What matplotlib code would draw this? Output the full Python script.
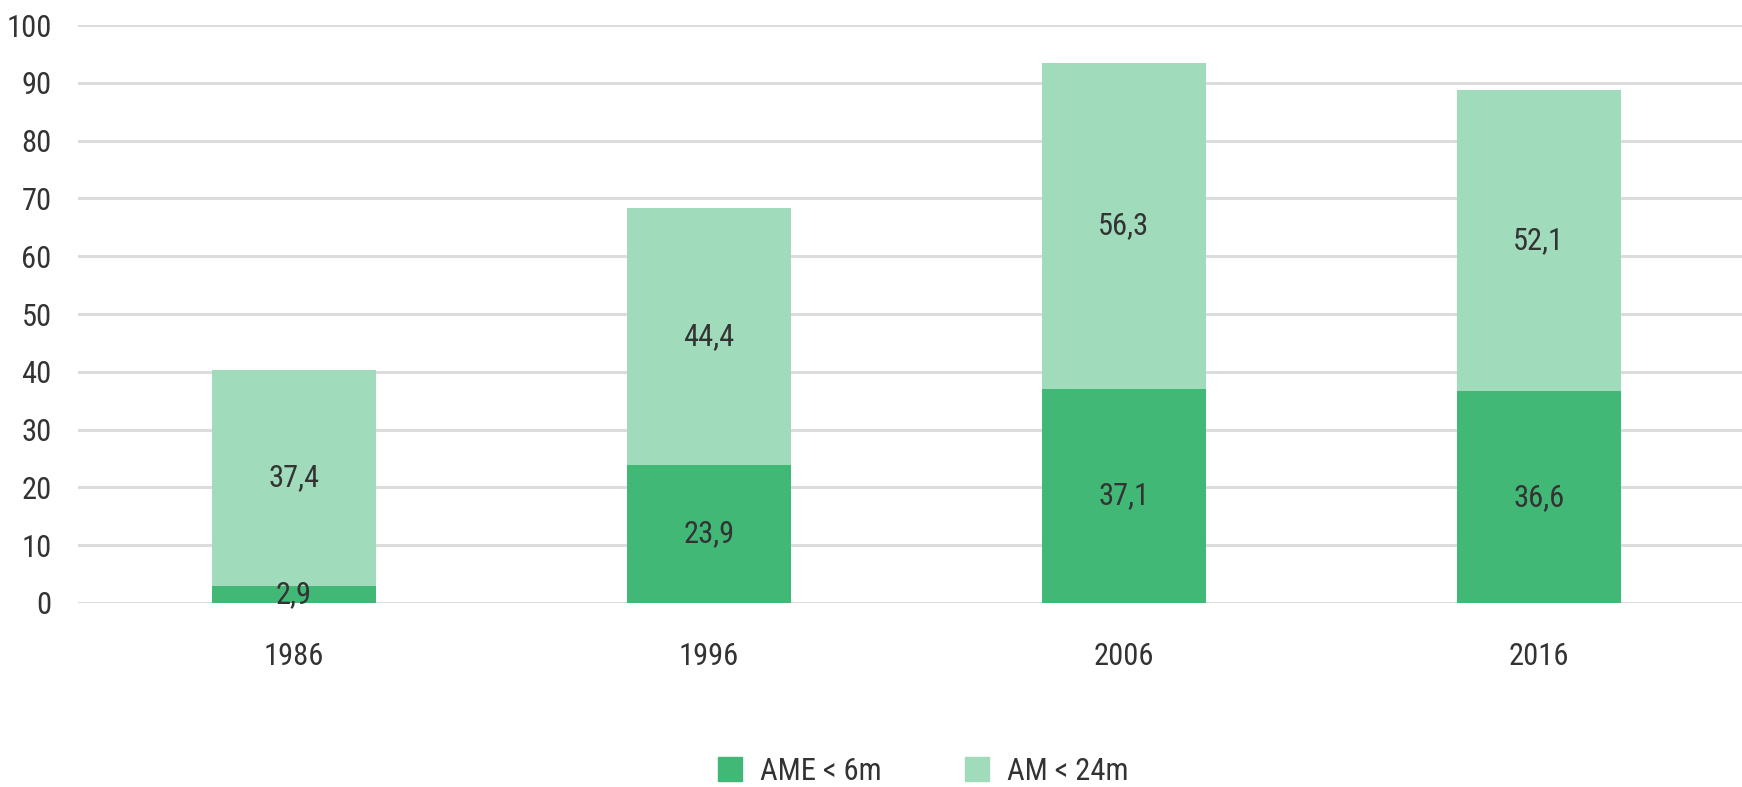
import matplotlib.pyplot as plt
from matplotlib import font_manager
from matplotlib.patches import Patch

# the reference uses a condensed face; take the first narrow one that exists
have = {f.name for f in font_manager.fontManager.ttflist}
narrow = [n for n in ['Liberation Sans Narrow', 'DejaVu Sans Condensed',
                      'Roboto Condensed', 'Open Sans Condensed',
                      'Noto Sans Condensed'] if n in have]
if not narrow:
    narrow = ['DejaVu Sans']
plt.rcParams['font.family'] = [narrow[0], 'DejaVu Sans']

# data
years = ['1986', '1996', '2006', '2016']
ame_6m = [2.9, 23.9, 37.1, 36.6]
am_24m = [37.4, 44.4, 56.3, 52.1]
ame_lbl = ['2,9', '23,9', '37,1', '36,6']
am_lbl = ['37,4', '44,4', '56,3', '52,1']

dark = '#42b877'
light = '#a0dbbc'
txt = '#333333'

fig = plt.figure(figsize=(17.42, 7.87), dpi=100)
ax = fig.add_axes([0.0448, 0.234, 0.9552, 0.734])

x = list(range(len(years)))
w = 0.395
ax.bar(x, ame_6m, w, color=dark, zorder=3)
ax.bar(x, am_24m, w, bottom=ame_6m, color=light, zorder=3)

for i in x:
    ax.text(i, ame_6m[i] / 2, ame_lbl[i], ha='center', va='center',
            fontsize=22, color=txt, zorder=4)
    ax.text(i, ame_6m[i] + am_24m[i] / 2, am_lbl[i], ha='center',
            va='center', fontsize=22, color=txt, zorder=4)

ax.set_xlim(-0.52, 3.49)
ax.set_ylim(0, 100)
ax.set_yticks(range(0, 101, 10))
ax.set_xticks(x)
ax.set_xticklabels(years)
ax.yaxis.grid(True, color='#dcdcdc', linewidth=2.2, zorder=0)
ax.set_axisbelow(True)
for s in ax.spines.values():
    s.set_visible(False)
ax.tick_params(axis='both', length=0, labelsize=22, colors=txt)
ax.tick_params(axis='y', pad=19)
ax.tick_params(axis='x', pad=28)

handles = [Patch(color=dark, label='AME < 6m'), Patch(color=light, label='AM < 24m')]
fig.legend(handles=handles, loc='center', bbox_to_anchor=(0.53, 0.02), ncol=2,
           frameon=False, fontsize=22, handlelength=0.8, handleheight=0.8,
           handletextpad=0.6, columnspacing=2.7, labelcolor=txt)

fig.savefig('out.png', dpi=100)
